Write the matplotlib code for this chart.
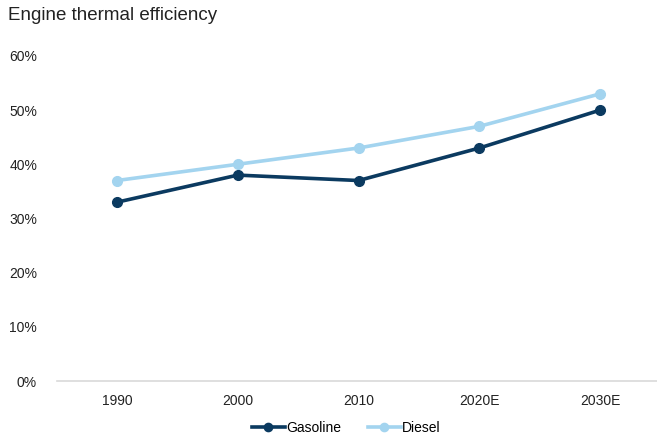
import matplotlib
matplotlib.use("Agg")
import matplotlib.pyplot as plt
from matplotlib.ticker import FuncFormatter

categories = ["1990", "2000", "2010", "2020E", "2030E"]
gasoline = [33, 38, 37, 43, 50]
diesel = [37, 40, 43, 47, 53]
yticks = [0, 10, 20, 30, 40, 50, 60]

plt.rcParams['font.family'] = ['Liberation Sans', 'DejaVu Sans']

fig = plt.figure(figsize=(6.57, 4.40), dpi=100)
ax = fig.add_axes([0.086, 0.134, 0.914, 0.739])

x = list(range(len(categories)))
c_gas = "#0B3A60"
c_die = "#A3D4EF"
ax.plot(x, gasoline, color=c_gas, lw=2.6, marker="o", ms=7, label="Gasoline", zorder=3)
ax.plot(x, diesel, color=c_die, lw=2.6, marker="o", ms=7, label="Diesel", zorder=2)

ax.set_xlim(-0.5, 4.47)
ax.set_ylim(0, 60)
ax.set_yticks(yticks)
ax.yaxis.set_major_formatter(FuncFormatter(lambda v, p: f"{int(v)}%"))
ax.set_xticks(x)
ax.set_xticklabels(categories)
ax.tick_params(axis="both", length=0, labelsize=10, colors="#222222")
ax.tick_params(axis="y", pad=14)
ax.tick_params(axis="x", pad=9)
for s in ["top", "right", "left"]:
    ax.spines[s].set_visible(False)
ax.spines["bottom"].set_color("#d9d9d9")
ax.spines["bottom"].set_linewidth(1.2)

fig.text(0.012, 0.965, "Engine thermal efficiency", fontsize=13.5, color="#222222",
         va="center", ha="left")

fig.legend(loc="center", bbox_to_anchor=(0.527, 0.027), ncol=2, frameon=False,
           fontsize=10, handlelength=2.4, handletextpad=0.1, columnspacing=1.9,
           markerscale=0.85)

fig.savefig("out.png", dpi=100)
